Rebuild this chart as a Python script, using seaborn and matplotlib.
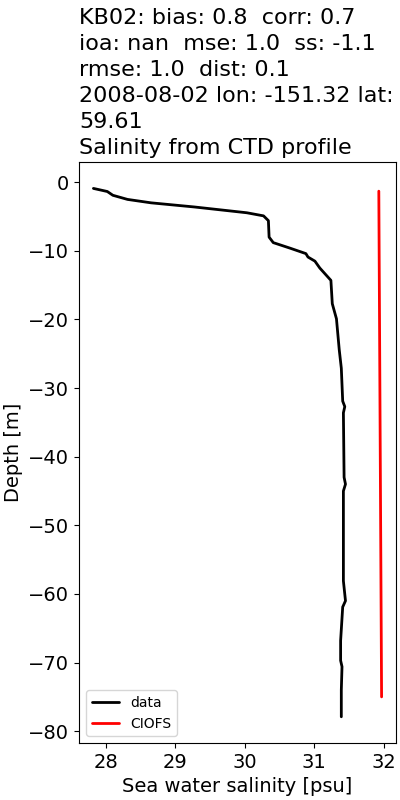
import numpy as np
import pandas as pd
import seaborn as sns
import matplotlib
matplotlib.use("Agg")
import matplotlib.pyplot as plt

# CTD salinity profile
data_salt = [27.82, 28.02, 28.10, 28.31, 28.65, 29.27, 30.03, 30.27, 30.34, 30.35,
             30.41, 30.65, 30.88, 30.91, 31.01, 31.08, 31.24, 31.26, 31.32, 31.36,
             31.39, 31.41, 31.44, 31.42, 31.43, 31.45, 31.42, 31.42, 31.42, 31.45,
             31.41, 31.38, 31.38, 31.40, 31.39, 31.39]
data_depth = [-0.9, -1.35, -1.9, -2.5, -3.0, -3.6, -4.45, -4.9, -5.6, -8.0,
              -8.8, -9.6, -10.4, -10.9, -11.5, -12.5, -14.3, -17.7, -19.9, -24.4,
              -27.1, -31.9, -32.7, -33.6, -43.0, -44.0, -45.0, -52.2, -58.1, -61.0,
              -61.9, -66.8, -69.7, -70.6, -74.0, -77.9]

model_salt = [31.93, 31.97]
model_depth = [-1.3, -75.0]

title = ("KB02: bias: 0.8  corr: 0.7\n"
         "ioa: nan  mse: 1.0  ss: -1.1\n"
         "rmse: 1.0  dist: 0.1\n"
         "2008-08-02 lon: -151.32 lat:\n"
         "59.61\n"
         "Salinity from CTD profile")

sns.set_style("ticks", {"text.color": "k", "axes.labelcolor": "k",
                        "xtick.color": "k", "ytick.color": "k",
                        "axes.edgecolor": "k"})
plt.rcParams['font.family'] = ['DejaVu Sans']

fig, ax = plt.subplots(figsize=(4, 8), dpi=100)
fig.subplots_adjust(left=0.1975, right=0.99, top=0.7975, bottom=0.071)

df_data = pd.DataFrame({"salt": data_salt, "depth": data_depth})
df_model = pd.DataFrame({"salt": model_salt, "depth": model_depth})
sns.lineplot(data=df_data, x="salt", y="depth", sort=False, estimator=None,
             color="k", lw=2, label="data", ax=ax)
sns.lineplot(data=df_model, x="salt", y="depth", sort=False, estimator=None,
             color="r", lw=2, label="CIOFS", ax=ax)

ax.set_title(title, loc="left", fontsize=16, linespacing=1.37)
ax.set_xlabel("Sea water salinity [psu]", fontsize=14)
ax.set_ylabel("Depth [m]", fontsize=14)
ax.tick_params(labelsize=14)
ax.legend(loc="lower left", fontsize=10)

fig.savefig("out.png")
